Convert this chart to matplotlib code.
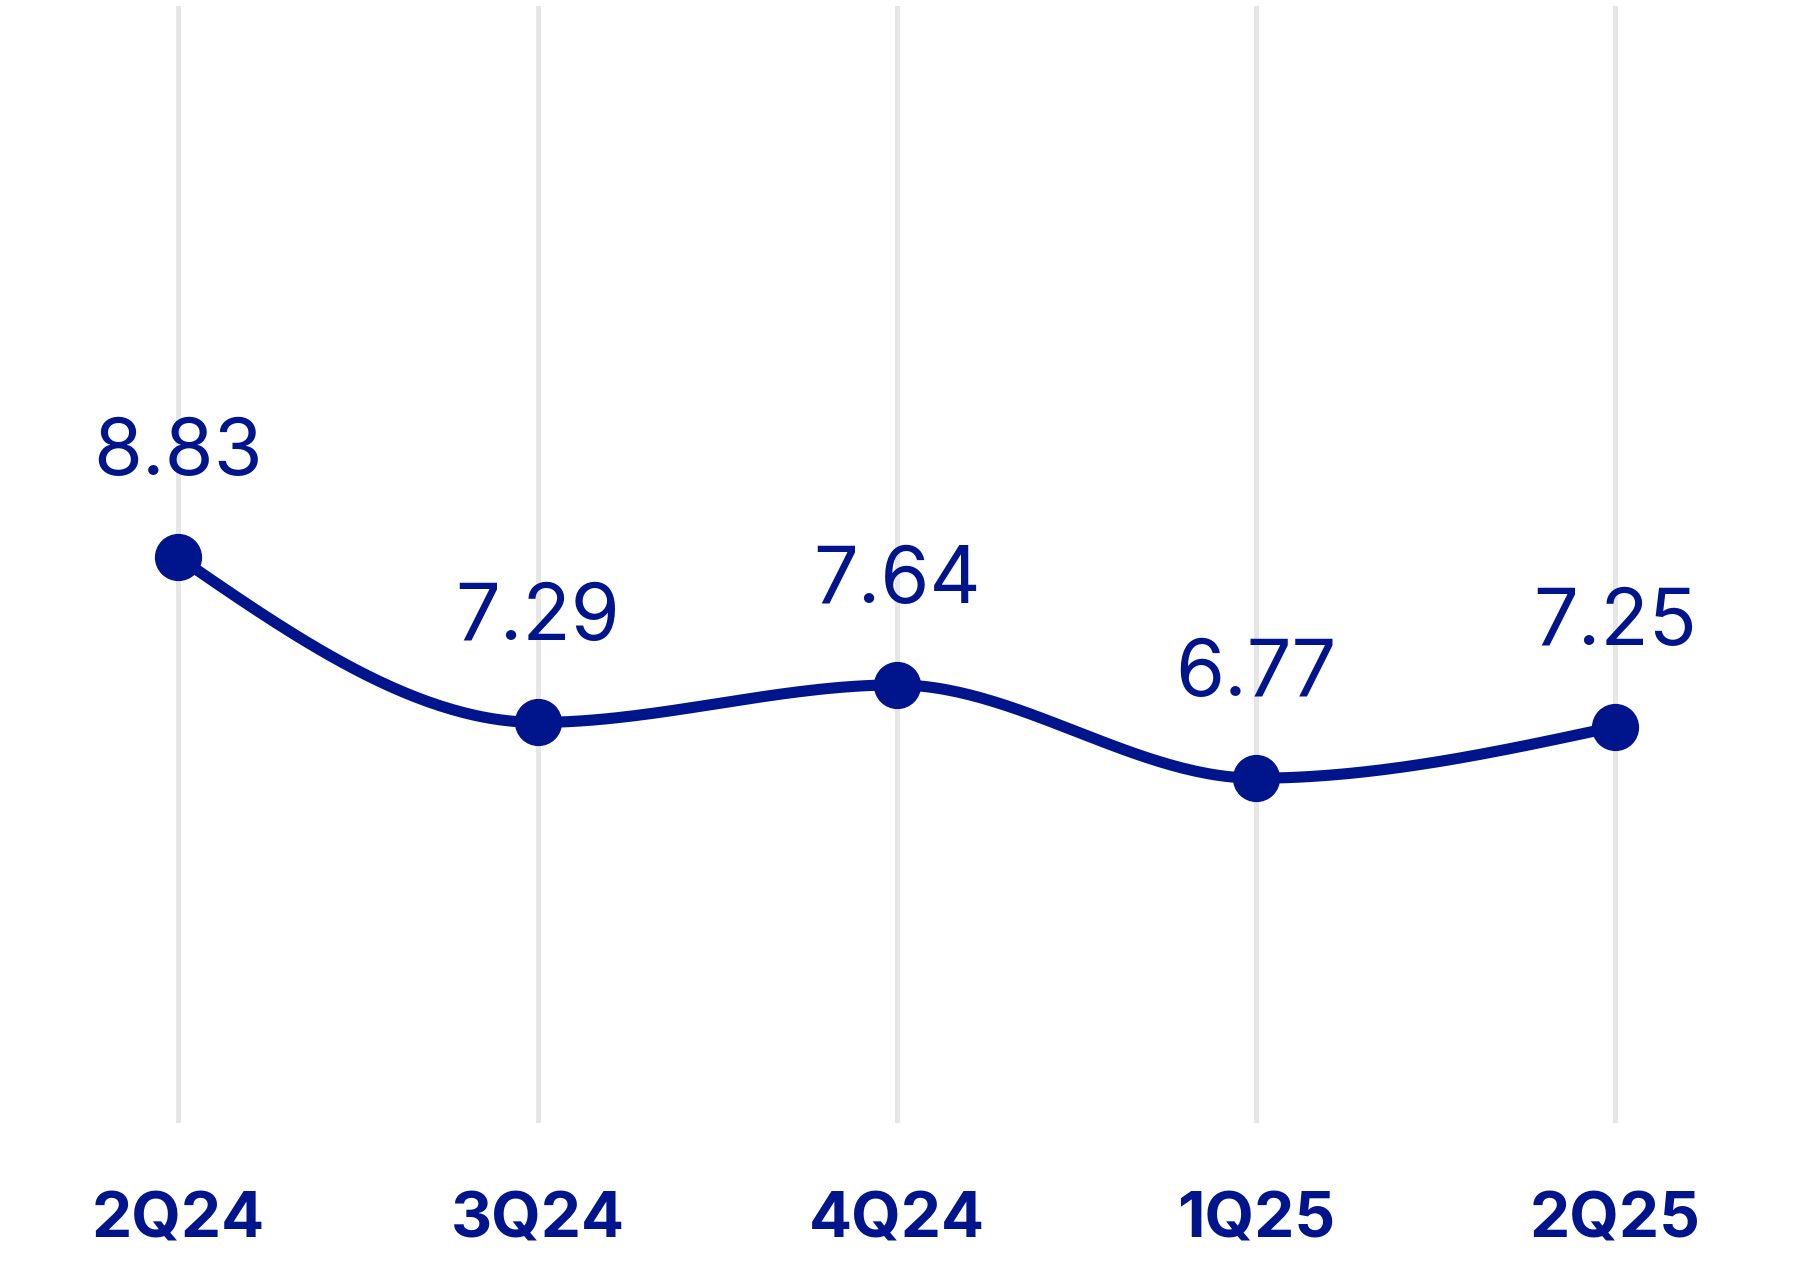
import numpy as np
import matplotlib
matplotlib.use("Agg")
import matplotlib.pyplot as plt

# ---- data ----
quarters = ["2Q24", "3Q24", "4Q24", "1Q25", "2Q25"]
values = [8.83, 7.29, 7.64, 6.77, 7.25]

NAVY = "#00148C"
GRID_C = "#e6e6e6"


def monotone_tangents(x, y):
    """Tangents like d3.curveMonotoneX (Fritsch-Carlson style)."""
    x = np.asarray(x, float); y = np.asarray(y, float)
    n = len(x)
    t = np.zeros(n)
    for i in range(1, n - 1):
        h0, h1 = x[i] - x[i - 1], x[i + 1] - x[i]
        s0, s1 = (y[i] - y[i - 1]) / h0, (y[i + 1] - y[i]) / h1
        p = (s0 * h1 + s1 * h0) / (h0 + h1)
        t[i] = (np.sign(s0) + np.sign(s1)) * min(abs(s0), abs(s1), 0.5 * abs(p))
    h = x[1] - x[0]
    t[0] = (3 * (y[1] - y[0]) / h - t[1]) / 2
    h = x[-1] - x[-2]
    t[-1] = (3 * (y[-1] - y[-2]) / h - t[-2]) / 2
    return t


def smooth_curve(x, y, steps=60):
    x = np.asarray(x, float); y = np.asarray(y, float)
    t = monotone_tangents(x, y)
    xs, ys = [], []
    for i in range(len(x) - 1):
        h = x[i + 1] - x[i]
        u = np.linspace(0, 1, steps)
        h00 = 2 * u**3 - 3 * u**2 + 1
        h10 = u**3 - 2 * u**2 + u
        h01 = -2 * u**3 + 3 * u**2
        h11 = u**3 - u**2
        xs.append(x[i] + u * h)
        ys.append(h00 * y[i] + h10 * h * t[i] + h01 * y[i + 1] + h11 * h * t[i + 1])
    return np.concatenate(xs), np.concatenate(ys)


xpos = np.arange(len(quarters))
cx, cy = smooth_curve(xpos, values)

fig = plt.figure(figsize=(18, 12.66), dpi=100)
ax = fig.add_axes([0, 143 / 1266, 1, 1117 / 1266])

ax.plot(cx, cy, color=NAVY, linewidth=8, solid_capstyle="round", zorder=3)
ax.plot(xpos, values, "o", color=NAVY, markersize=33, zorder=4)

for x, v in zip(xpos, values):
    ax.annotate(f"{v:.2f}", (x, v), xytext=(0, 59), textcoords="offset points",
                ha="center", va="baseline", fontsize=57, color=NAVY,
                family="Inter")

ax.set_xlim(-0.497, 4.515)
ax.set_ylim(3.555, 13.97)
ax.set_xticks(xpos)
ax.set_xticklabels(quarters, fontsize=46, fontweight="bold", color=NAVY, family="Inter")
ax.set_yticks([])
ax.tick_params(axis="x", length=0, pad=49)
ax.grid(axis="x", color=GRID_C, linewidth=3.6, zorder=0)
ax.set_axisbelow(True)
for s in ax.spines.values():
    s.set_visible(False)

fig.savefig("out.png", dpi=100, facecolor="white")
